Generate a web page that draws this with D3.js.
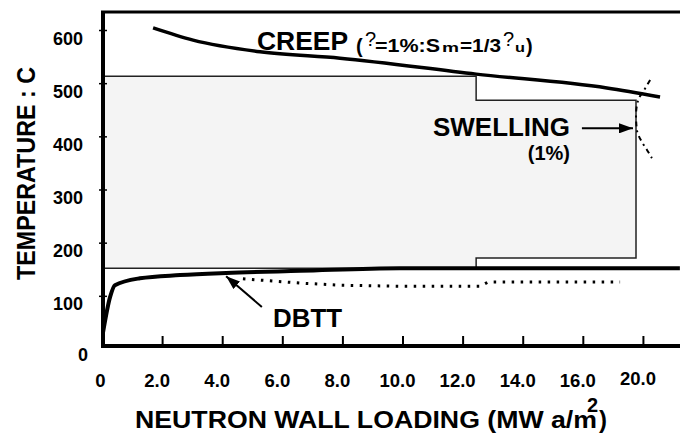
<!DOCTYPE html>
<html>
<head>
<meta charset="utf-8">
<script src="https://cdn.jsdelivr.net/npm/d3@7"></script>
<style>
body { margin: 0; background: #fff; }
text { font-family: "Liberation Sans", Arial, sans-serif; font-weight: bold; fill: #000; }
</style>
</head>
<body>
<div id="c"></div>
<script>
// axis ticks (the last tick is labelled 20.0 in the original figure)
var xTicks = [0, 2, 4, 6, 8, 10, 12, 14, 16, 18];
var xTickLabels = ["0", "2.0", "4.0", "6.0", "8.0", "10.0", "12.0", "14.0", "16.0", "20.0"];
var yTicks = [0, 100, 200, 300, 400, 500, 600];

// creep limit
var creepX = [1.70, 3.03, 5.26, 7.92, 12.45, 16.8, 18.57];
var creepT = [604, 581, 559, 547, 517, 491, 474];

// DBTT limit
var dbttX = [0.03, 0.27, 0.43, 1.26, 2.6, 4.13, 6.6, 9.9, 12.45, 19.23];
var dbttT = [30, 98, 120, 133, 139, 143, 147, 152, 152, 152];

// dotted DBTT
var dotX = [4.69, 6.59, 7.92, 9.92, 12.58, 12.85, 17.24];
var dotT = [132, 124, 120, 118, 118, 126, 126];

// swelling (1%)
var swellX = [18.24, 18.04, 17.84, 17.77, 17.8, 17.97, 18.14, 18.3];
var swellT = [506, 487, 468, 440, 412, 389, 374, 359];

// operating window
var boxX = [0, 12.45, 12.45, 17.77, 17.77, 12.45, 12.45, 0];
var boxT = [513, 513, 468, 468, 171, 171, 152, 152];

var width = 680, height = 433;
var plot_top = 12, plot_bottom = 346;

var svg = d3.select("#c").append("svg")
	.attr("width", width)
	.attr("height", height);

var x = d3.scaleLinear().domain([0, 19.234]).range([102, 680]);
var y = d3.scaleLinear().domain([0, 600]).range([349, 30]);

var defs = svg.append("defs");
defs.append("marker")
	.attr("id", "arr")
	.attr("markerUnits", "userSpaceOnUse")
	.attr("viewBox", "0 0 14 10")
	.attr("refX", 14).attr("refY", 5)
	.attr("markerWidth", 14).attr("markerHeight", 10)
	.attr("orient", "auto")
	.append("path")
	.attr("d", "M0,0L14,5L0,10Z")
	.attr("fill", "#000");

function pts(xs, ts) { return xs.map(function(v, i) { return [v, ts[i]]; }); }

var line = d3.line()
	.x(function(d) { return x(d[0]); })
	.y(function(d) { return y(d[1]); });

var smooth = d3.line()
	.x(function(d) { return x(d[0]); })
	.y(function(d) { return y(d[1]); })
	.curve(d3.curveMonotoneX);

var smoothY = d3.line()
	.x(function(d) { return x(d[0]); })
	.y(function(d) { return y(d[1]); })
	.curve(d3.curveMonotoneY);

// gray window
svg.append("path")
	.attr("d", line(pts(boxX, boxT)) + "Z")
	.attr("fill", "#f4f4f4")
	.attr("stroke", "#222")
	.attr("stroke-width", 1.5);

// creep
svg.append("path")
	.attr("d", smooth(pts(creepX, creepT)))
	.attr("fill", "none")
	.attr("stroke", "#000")
	.attr("stroke-width", 3.5);

// dbtt
svg.append("path")
	.attr("d", smooth(pts(dbttX, dbttT)))
	.attr("fill", "none")
	.attr("stroke", "#000")
	.attr("stroke-width", 4);

svg.append("path")
	.attr("d", line(pts(dotX, dotT)))
	.attr("fill", "none")
	.attr("stroke", "#000")
	.attr("stroke-width", 3)
	.attr("stroke-dasharray", "2.5,6.5");

// swelling
svg.append("path")
	.attr("d", smoothY(pts(swellX, swellT)))
	.attr("fill", "none")
	.attr("stroke", "#000")
	.attr("stroke-width", 2)
	.attr("stroke-dasharray", "5,4,2,4");

// axes
var xAxis = svg.append("g")
	.attr("transform", "translate(0," + plot_bottom + ")")
	.call(d3.axisBottom(x).tickValues(xTicks).tickSize(-10)
		.tickFormat(function(d, i) { return xTickLabels[i]; }));
xAxis.select(".domain").remove();
xAxis.selectAll(".tick line").attr("stroke", "#000").attr("stroke-width", 2);
xAxis.selectAll(".tick text")
	.attr("y", 41).attr("dy", 0).attr("dx", -5.5)
	.attr("fill", "#000")
	.style("font-size", "18.5px");
xAxis.selectAll(".tick text").filter(function(d) { return d == 0; }).attr("dx", -2);
xAxis.selectAll(".tick text").filter(function(d) { return d == 18; }).attr("y", 39);

var yAxis = svg.append("g")
	.attr("transform", "translate(107,0)")
	.call(d3.axisLeft(y).tickValues(yTicks).tickSize(8));
yAxis.select(".domain").remove();
yAxis.selectAll(".tick line").attr("stroke", "#000").attr("stroke-width", 1.5);
yAxis.selectAll(".tick").filter(function(d) { return d == 0; }).select("line").remove();
yAxis.selectAll(".tick text")
	.attr("x", -24).attr("dy", 14)
	.attr("fill", "#000")
	.style("font-size", "18px");
yAxis.selectAll(".tick text").filter(function(d) { return d == 0; })
	.attr("x", -19).attr("dy", 11);

// frame
svg.append("line")
	.attr("x1", 101).attr("x2", 680)
	.attr("y1", plot_top).attr("y2", plot_top)
	.attr("stroke", "#000").attr("stroke-width", 3);
svg.append("line")
	.attr("x1", 101).attr("x2", 680)
	.attr("y1", plot_bottom).attr("y2", plot_bottom)
	.attr("stroke", "#000").attr("stroke-width", 4);
svg.append("line")
	.attr("x1", 103).attr("x2", 103)
	.attr("y1", plot_top - 1).attr("y2", plot_bottom + 2)
	.attr("stroke", "#000").attr("stroke-width", 4);

// arrows
svg.append("line")
	.attr("x1", x(5.32)).attr("y1", y(79))
	.attr("x2", x(4.13)).attr("y2", y(137))
	.attr("stroke", "#000").attr("stroke-width", 2)
	.attr("marker-end", "url(#arr)");
svg.append("line")
	.attr("x1", x(15.97)).attr("y1", y(415))
	.attr("x2", x(17.67)).attr("y2", y(415))
	.attr("stroke", "#000").attr("stroke-width", 2)
	.attr("marker-end", "url(#arr)");

// labels
function label(tx, ty, s, size, len, weight) {
	var t = svg.append("text").attr("x", tx).attr("y", ty)
		.style("font-size", size + "px")
		.text(s);
	if (len) t.attr("textLength", len).attr("lengthAdjust", "spacingAndGlyphs");
	if (weight) t.style("font-weight", weight);
	return t;
}

label(257, 50, "CREEP", 25, 91);
label(356, 53, "(", 20);
label(365, 46, "?", 20, 0, "normal");
label(375, 52, "=1%:S", 18, 65);
label(442, 52, "m", 13, 17);
label(460, 52, "=1/3", 18, 41);
label(503, 46, "?", 20, 0, "normal");
label(515, 52, "u", 13, 10);
label(526, 53, ")", 20);

label(433, 136, "SWELLING", 25, 137);
svg.append("text").attr("x", 570).attr("y", 160).attr("text-anchor", "end")
	.style("font-size", "20px")
	.text("(1%)");

label(273, 327, "DBTT", 26, 69);

// axis titles
label(135, 428, "NEUTRON WALL LOADING (MW a/m", 24, 462);
label(587, 412, "2", 20);
label(599, 428, ")", 24);

svg.append("text")
	.attr("transform", "translate(35,173.5) rotate(-90)")
	.attr("text-anchor", "middle")
	.style("font-size", "26px").attr("textLength", 213).attr("lengthAdjust", "spacingAndGlyphs")
	.text("TEMPERATURE : C");
</script>
</body>
</html>
